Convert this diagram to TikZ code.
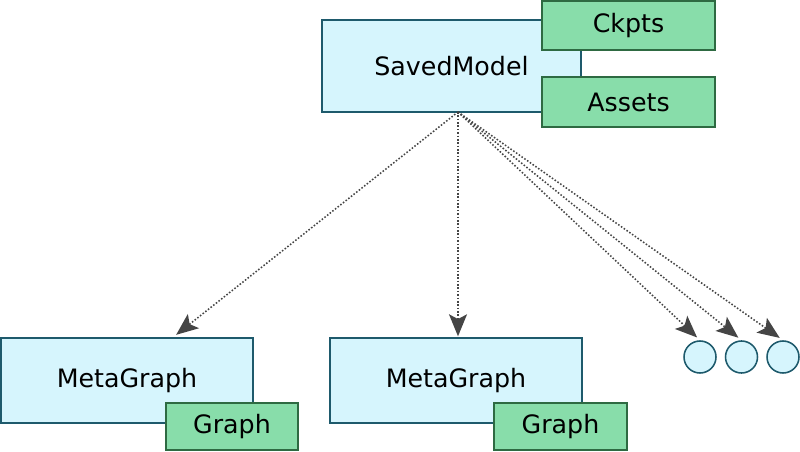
\documentclass[tikz,border=0pt]{standalone}
\usepackage{fontspec}
\setmainfont{DejaVu Sans}
\usetikzlibrary{arrows.meta}
\definecolor{lb}{HTML}{D6F5FD}
\definecolor{lbd}{HTML}{1E5A6C}
\definecolor{gr}{HTML}{88DDAA}
\definecolor{grd}{HTML}{2E6A42}
\definecolor{dk}{HTML}{454545}
\tikzset{
  bluebox/.style={draw=lbd,fill=lb,line width=1pt,inner sep=0pt,font=\fontsize{18}{21}\selectfont},
  greenbox/.style={draw=grd,fill=gr,line width=1pt,inner sep=0pt,font=\fontsize{18}{21}\selectfont},
  dot/.style={circle,draw=lbd,fill=lb,line width=1.1pt,minimum size=0.8cm,inner sep=0pt},
  link/.style={dk,line width=1.1pt,dash pattern=on 1.1pt off 1.3pt,
    -{Stealth[length=0.55cm,width=0.45cm,inset=0.12cm]},shorten >=4*0.025cm}
}

\begin{document}
\begin{tikzpicture}[x=0.025cm,y=-0.025cm]%
  \useasboundingbox (0,0) rectangle (800,452);
  % the saved model with its parts
  \node [bluebox,minimum width=259*0.025cm,minimum height=92*0.025cm] (sm) at (451.5,66) {SavedModel};
  \node [greenbox,minimum width=173*0.025cm,minimum height=49*0.025cm] (ck) at (628.5,25.5) {Ckpts};
  \node [greenbox,minimum width=173*0.025cm,minimum height=50*0.025cm] (as) at (628.5,102) {Assets};
  % meta graphs
  \node [bluebox,minimum width=252*0.025cm,minimum height=85*0.025cm] (mg1) at (127,380.5) {MetaGraph};
  \node [greenbox,minimum width=132*0.025cm,minimum height=47*0.025cm] (g1) at (232,426.5) {Graph};
  \node [bluebox,minimum width=252*0.025cm,minimum height=85*0.025cm] (mg2) at (456,380.5) {MetaGraph};
  \node [greenbox,minimum width=133*0.025cm,minimum height=47*0.025cm] (g2) at (560.5,426.5) {Graph};
  % more of them
  \node [dot] (c1) at (700,357) {};
  \node [dot] (c2) at (741.5,357) {};
  \node [dot] (c3) at (783,357) {};
  % arrows
  \coordinate (fan) at (458,112);
  \draw [link] (fan) -- ([xshift=46*0.025cm]mg1.north);
  \draw [link,shorten >=1*0.025cm] (fan) -- ([xshift=2*0.025cm]mg2.north);
  \draw [link] (fan) -- (c1.north);
  \draw [link] (fan) -- (c2.north);
  \draw [link] (fan) -- (c3.north);
\end{tikzpicture}
\end{document}
